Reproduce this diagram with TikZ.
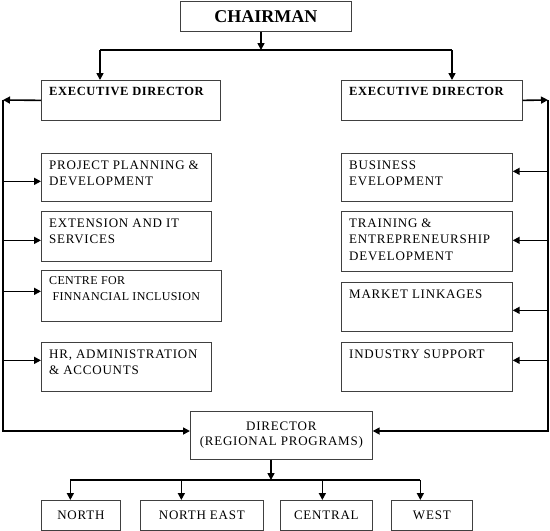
\documentclass[tikz,border=0pt]{standalone}
\usepackage{fontspec}
\setmainfont{Liberation Serif}
\usetikzlibrary{arrows.meta, positioning}

\begin{document}
\begin{tikzpicture}[x=1pt, y=-1pt,
  unit/.style={draw=black!75, line width=0.7pt, anchor=north west, inner sep=0pt},
  caption/.style={anchor=north west, align=left, inner sep=0pt, xshift=8pt, yshift=-7.5pt,
    font=\fontsize{13}{16.5}\selectfont\addfontfeature{LetterSpace=6}},
  title/.style={caption, font=\fontsize{12.5}{16}\selectfont\bfseries\addfontfeature{LetterSpace=5}},
  middle/.style={align=center, font=\fontsize{13}{15}\selectfont\addfontfeature{LetterSpace=6}},
  wire/.style={line width=1.6pt},
  link/.style={wire, -{Triangle[length=7pt, width=7pt]}}]
  \useasboundingbox (0,0) rectangle (550,531);

  % top level
  \node[unit, minimum width=171pt, minimum height=30pt, font=\fontsize{18}{20}\selectfont\bfseries] (chair) at (180,1) {CHAIRMAN};
  \node[unit, minimum width=179pt, minimum height=40pt, label={[title]north west:EXECUTIVE DIRECTOR}] (edl) at (41,80) {};
  \node[unit, minimum width=181pt, minimum height=40pt, label={[title]north west:EXECUTIVE DIRECTOR}] (edr) at (341,80) {};

  % left units
  \node[unit, minimum width=170pt, minimum height=48pt, label={[caption]north west:PROJECT PLANNING \&\\DEVELOPMENT}] (ppd) at (41,153) {};
  \node[unit, minimum width=170pt, minimum height=50pt, label={[caption]north west:EXTENSION AND IT\\SERVICES}] (ext) at (41,211) {};
  \node[unit, minimum width=180pt, minimum height=51pt, label={[caption, yshift=1pt, font=\fontsize{12}{16}\selectfont\addfontfeature{LetterSpace=3}]north west:CENTRE FOR\\\ FINNANCIAL INCLUSION}] (cfi) at (41,270) {};
  \node[unit, minimum width=170pt, minimum height=49pt, label={[caption]north west:HR, ADMINISTRATION\\\& ACCOUNTS}] (hra) at (41,342) {};

  % right units
  \node[unit, minimum width=171pt, minimum height=48pt, label={[caption]north west:BUSINESS\\EVELOPMENT}] (bus) at (341,153) {};
  \node[unit, minimum width=171pt, minimum height=60pt, label={[caption]north west:TRAINING \&\\ENTREPRENEURSHIP\\DEVELOPMENT}] (ted) at (341,211) {};
  \node[unit, minimum width=171pt, minimum height=49pt, label={[caption]north west:MARKET LINKAGES}] (mkt) at (341,282) {};
  \node[unit, minimum width=171pt, minimum height=49pt, label={[caption]north west:INDUSTRY SUPPORT}] (ind) at (341,342) {};

  % regions
  \node[unit, middle, minimum width=182pt, minimum height=48pt] (dir) at (190,411) {DIRECTOR\\(REGIONAL PROGRAMS)};
  \node[unit, middle, minimum width=79pt, minimum height=30pt] (north) at (41,500) {NORTH};
  \node[unit, middle, minimum width=123pt, minimum height=30pt] (neast) at (140,500) {NORTH EAST};
  \node[unit, middle, minimum width=92pt, minimum height=30pt] (central) at (280,500) {CENTRAL};
  \node[unit, middle, minimum width=81pt, minimum height=30pt] (west) at (391,500) {WEST};

  % chairman to executive directors
  \coordinate (hub) at (261,50);
  \coordinate (hubL) at (100,50);
  \coordinate (hubR) at (452,50);
  \draw[link] (hub |- chair.south) -- (hub);
  \draw[wire] (hubL) -- (hubR);
  \draw[link] (hubL) -- (hubL |- edl.north);
  \draw[link] (hubR) -- (hubR |- edr.north);

  % side spines
  \coordinate (spineL) at (3,100);
  \coordinate (spineLend) at (3,431);
  \coordinate (spineR) at (548,100);
  \coordinate (spineRend) at (548,431);
  \draw[link] (edl.west) -- (spineL);
  \draw[link] (edr.east) -- (spineR);
  \draw[link] (spineL) -- (spineLend) -- (spineLend -| dir.west);
  \draw[link] (spineR) -- (spineRend) -- (spineRend -| dir.east);
  \foreach \unitname/\dy in {ppd/-4, ext/-4, cfi/4.5, hra/6.5}
    \draw[link] ([yshift=\dy pt]\unitname.west -| spineL) -- ([yshift=\dy pt]\unitname.west);
  \foreach \unitname/\dy in {bus/6, ted/1, mkt/-3.5, ind/6.5}
    \draw[link] ([yshift=\dy pt]\unitname.east -| spineR) -- ([yshift=\dy pt]\unitname.east);

  % director to regions
  \coordinate (drop) at (271,480);
  \coordinate (dropL) at (70,480);
  \coordinate (dropR) at (420,480);
  \draw[link] (drop |- dir.south) -- (drop);
  \draw[wire] (dropL) -- (dropR);
  \foreach \unitname/\dx in {north/-10.5, neast/-20.5, central/-4, west/-11.5}
    \draw[link] ([xshift=\dx pt]\unitname.north) ++(0,-20) -- ++(0,20);
\end{tikzpicture}
\end{document}
